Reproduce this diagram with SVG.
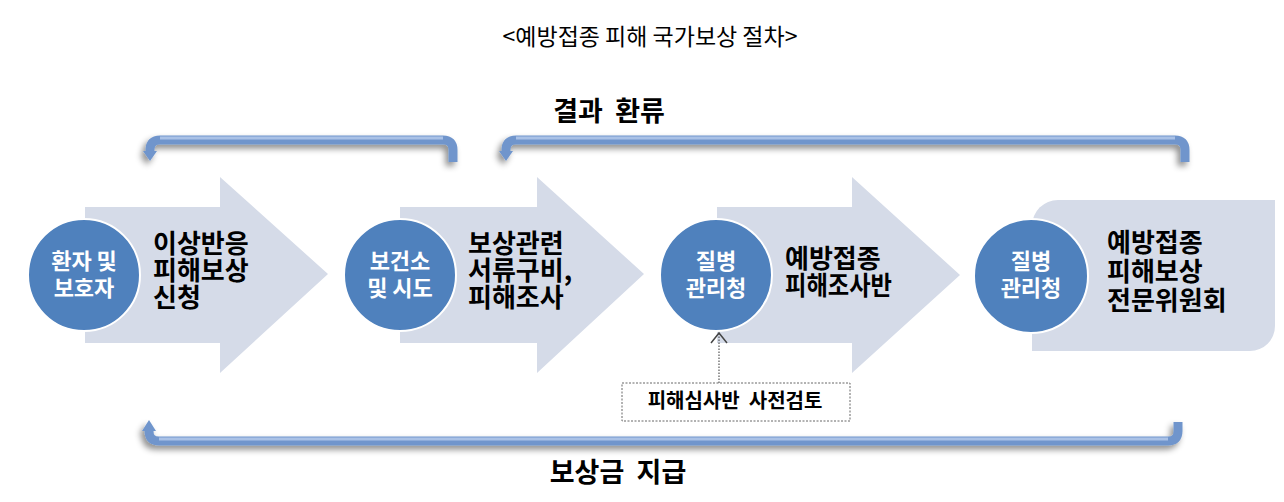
<svg xmlns="http://www.w3.org/2000/svg" width="1284" height="502" viewBox="0 0 1284 502">
<style>
.arrow{fill:#d5dbe8}
.circ{fill:#4f81bd;stroke:#ffffff;stroke-width:2}
.ct{font-family:"Noto Sans CJK KR","Noto Sans",sans-serif;font-weight:700;font-size:22px;fill:#ffffff;text-anchor:middle}
.bt{font-family:"Noto Sans CJK KR","Noto Sans",sans-serif;font-weight:700;font-size:26px;fill:#000000}
.lbl{font-family:"Noto Sans CJK KR","Noto Sans",sans-serif;font-weight:700;font-size:27px;fill:#000000;text-anchor:middle;white-space:pre}
.title{font-family:"Noto Sans CJK KR","Noto Sans",sans-serif;font-size:23px;fill:#000000;text-anchor:middle}
.tube{fill:none;stroke:#6f95cc;stroke-width:9;stroke-linecap:butt}
.tubehl{fill:none;stroke:#a9c1e6;stroke-width:3}
.head{fill:#6f95cc}
</style>
<defs>
<filter id="sh" x="-5%" y="-50%" width="110%" height="200%">
<feDropShadow dx="-3" dy="4" stdDeviation="3" flood-color="#000000" flood-opacity="0.45"/>
</filter>
</defs>
<rect width="1284" height="502" fill="#ffffff"/>
<text class="title" x="650" y="45">&lt;예방접종 피해 국가보상 절차&gt;</text>

<g id="node1">
  <path class="arrow" d="M 85 207 H 220 V 177 L 328 274 L 220 373 V 343 H 85 Z"/>
  <circle class="circ" cx="84" cy="275" r="56"/>
  <text class="ct" x="84" y="269"><tspan x="84">환자 및</tspan><tspan x="84" dy="27">보호자</tspan></text>
  <text class="bt" x="153" y="253"><tspan x="153">이상반응</tspan><tspan x="153" dy="27">피해보상</tspan><tspan x="153" dy="27">신청</tspan></text>
</g>

<g id="node2">
  <path class="arrow" d="M 400 207 H 537 V 177 L 644 274 L 537 373 V 343 H 400 Z"/>
  <circle class="circ" cx="400" cy="275" r="56"/>
  <text class="ct" x="400" y="269"><tspan x="400">보건소</tspan><tspan x="400" dy="27">및 시도</tspan></text>
  <text class="bt" x="468" y="253"><tspan x="468">보상관련</tspan><tspan x="468" dy="27">서류구비,</tspan><tspan x="468" dy="27">피해조사</tspan></text>
</g>

<g id="node3">
  <path class="arrow" d="M 717 207 H 852 V 177 L 960 275 L 852 373 V 343 H 717 Z"/>
  <circle class="circ" cx="716" cy="275" r="56"/>
  <text class="ct" x="716" y="269"><tspan x="716">질병</tspan><tspan x="716" dy="27">관리청</tspan></text>
  <text class="bt" x="785" y="268"><tspan x="785">예방접종</tspan><tspan x="785" dy="27" textLength="107" lengthAdjust="spacingAndGlyphs">피해조사반</tspan></text>
</g>

<g id="node4">
  <path class="arrow" d="M 1058 200 H 1275 V 326 A 25 25 0 0 1 1250 351 H 1032 V 226 A 26 26 0 0 1 1058 200 Z"/>
  <circle class="circ" cx="1031" cy="276" r="57"/>
  <text class="ct" x="1031" y="269"><tspan x="1031">질병</tspan><tspan x="1031" dy="27">관리청</tspan></text>
  <text class="bt" x="1107" y="252"><tspan x="1107">예방접종</tspan><tspan x="1107" dy="29">피해보상</tspan><tspan x="1107" dy="29">전문위원회</tspan></text>
</g>

<g id="review">
  <rect x="622" y="383" width="228" height="38" fill="#ffffff" stroke="#666666" stroke-width="1" stroke-dasharray="2,1.5"/>
  <text x="735" y="408" xml:space="preserve" font-family="'Noto Sans CJK KR','Noto Sans',sans-serif" font-weight="700" font-size="20" text-anchor="middle" fill="#000000">피해심사반  사전검토</text>
</g>

<g id="connectors">
  <g filter="url(#sh)">
    <path class="tube" d="M 453 162 V 150 Q 453 140 443 140 H 160 Q 150 140 150 150 V 152"/>
    <path class="head" d="M 143 151 L 157 151 L 150 161 Z"/>
    <path class="tube" d="M 1185 162 V 150 Q 1185 140 1175 140 H 516 Q 506 140 506 150 V 152"/>
    <path class="head" d="M 499 151 L 513 151 L 506 161 Z"/>
    <path class="tube" d="M 1178 422 V 431 Q 1178 441 1168 441 H 159 Q 149 441 149 431 V 430"/>
    <path class="head" d="M 142 431 L 156 431 L 149 420 Z"/>
  </g>
  <path class="tubehl" d="M 160 138 H 443"/>
  <path class="tubehl" d="M 516 138 H 1175"/>
  <path class="tubehl" d="M 159 439 H 1168"/>
  <text class="lbl" x="609" y="121" xml:space="preserve">결과  환류</text>
  <text class="lbl" x="618" y="482" xml:space="preserve">보상금  지급</text>
  <line x1="719" y1="383" x2="719" y2="334" stroke="#555555" stroke-width="1.2" stroke-dasharray="1.5,1.5"/>
  <path d="M 711 343 L 719 333 L 727 343" fill="none" stroke="#444444" stroke-width="1.5"/>
</g>
</svg>
